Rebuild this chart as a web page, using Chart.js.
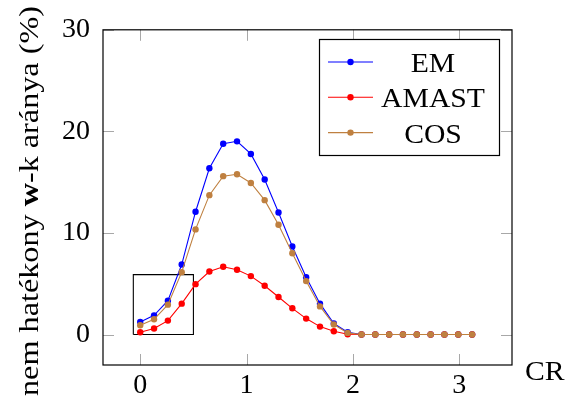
<!DOCTYPE html>
<html><head><meta charset="utf-8">
<script src="https://cdn.jsdelivr.net/npm/chart.js@4.4.0/dist/chart.umd.min.js"></script>
<style>html,body{margin:0;padding:0;background:#fff;}</style>
</head><body>
<canvas id="c" width="565" height="400" style="width:565px;height:400px;display:block"></canvas>
<script>
const xValues = [0,0.13,0.26,0.39,0.52,0.65,0.78,0.91,1.04,1.17,1.30,1.43,1.56,1.69,1.82,1.95,2.08,2.21,2.34,2.47,2.60,2.73,2.86,2.99,3.12];
const seriesNames = ['EM','AMAST','COS'];
const emValues    = [1.24,1.89,3.33,6.89,12.09,16.37,18.78,19.02,17.78,15.26,12.02,8.66,5.65,3.04,1.08,0.22,0,0,0,0,0,0,0,0,0];
const amastValues = [0.23,0.59,1.37,3.04,4.96,6.20,6.67,6.37,5.75,4.80,3.69,2.58,1.57,0.78,0.32,0.02,0,0,0,0,0,0,0,0,0];
const cosValues   = [0.91,1.50,2.94,6.14,10.35,13.72,15.59,15.78,14.92,13.23,10.81,8.00,5.26,2.77,0.98,0.16,0,0,0,0,0,0,0,0,0];
const xTickValues = [0,1,2,3];
const yTickValues = [0,10,20,30];
const boxX = [-0.065,0.5,0.5,-0.065,-0.065];
const boxY = [0,0,5.9,5.9,0];
const xAxisLabel = 'CR';
const yAxisLabelParts = [['nem hatékony ', false], ['w', true], ['-k aránya (%)', false]];

const SERIF = '"Liberation Serif", "DejaVu Serif", serif';
const colors = ['#0000ff', '#ff0000', '#bf8040'];
const seriesValues = [emValues, amastValues, cosValues];
const orders = [3, 2, 1];

const datasets = seriesNames.map((name, i) => ({
  label: name,
  data: xValues.map((x, k) => ({x: x, y: seriesValues[i][k]})),
  borderColor: colors[i],
  backgroundColor: colors[i],
  borderWidth: 1.1,
  pointRadius: 3.2,
  pointBorderWidth: 0,
  pointHoverRadius: 3.2,
  tension: 0,
  order: orders[i]
}));
datasets.push({
  label: '_box',
  data: boxX.map((x, k) => ({x: x, y: boxY[k]})),
  borderColor: '#000000',
  borderWidth: 1.1,
  pointRadius: 0,
  fill: false,
  tension: 0,
  order: 4
});

function stretchedText(ctx, text, x, y, sx, align) {
  const w = ctx.measureText(text).width * sx;
  let left = x;
  if (align === 'center') left = x - w / 2;
  else if (align === 'right') left = x - w;
  ctx.save();
  ctx.translate(left, y);
  ctx.scale(sx, 1);
  ctx.textAlign = 'left';
  ctx.fillText(text, 0, 0);
  ctx.restore();
}

const framePlugin = {
  id: 'frame',
  beforeDatasetsDraw(chart) {
    const {ctx, chartArea: a, scales} = chart;
    ctx.save();
    ctx.strokeStyle = '#a8a8a8';
    ctx.lineWidth = 1;
    const tl = 11;
    xTickValues.forEach(v => {
      const p = Math.round(scales.x.getPixelForValue(v)) + 0.5;
      ctx.beginPath();
      ctx.moveTo(p, a.bottom); ctx.lineTo(p, a.bottom - tl);
      ctx.moveTo(p, a.top); ctx.lineTo(p, a.top + tl);
      ctx.stroke();
    });
    yTickValues.forEach(v => {
      const p = Math.round(scales.y.getPixelForValue(v)) + 0.5;
      ctx.beginPath();
      ctx.moveTo(a.left, p); ctx.lineTo(a.left + tl, p);
      ctx.moveTo(a.right, p); ctx.lineTo(a.right - tl, p);
      ctx.stroke();
    });
    ctx.restore();
  },
  afterDraw(chart) {
    const {ctx, chartArea: a} = chart;
    ctx.save();
    // frame
    ctx.strokeStyle = '#000';
    ctx.lineWidth = 1.2;
    ctx.strokeRect(a.left, a.top, a.right - a.left, a.bottom - a.top);

    // legend
    const lx = 319.5, ly = 39.5, lw = 180, lh = 116;
    ctx.fillStyle = '#fff';
    ctx.fillRect(lx, ly, lw, lh);
    ctx.strokeRect(lx, ly, lw, lh);
    ctx.font = '28px ' + SERIF;
    ctx.textBaseline = 'alphabetic';
    seriesNames.forEach((name, i) => {
      const cy = 62 + i * 35.3;
      ctx.strokeStyle = colors[i];
      ctx.lineWidth = 1.1;
      ctx.beginPath(); ctx.moveTo(328, cy); ctx.lineTo(373, cy); ctx.stroke();
      ctx.fillStyle = colors[i];
      ctx.beginPath(); ctx.arc(350.5, cy, 3.2, 0, Math.PI * 2); ctx.fill();
      ctx.fillStyle = '#000';
      stretchedText(ctx, name, 433, cy + 10, 1.06, 'center');
    });

    // x axis label
    stretchedText(ctx, xAxisLabel, 525, 380, 1.06, 'left');

    // y axis label (rotated, mixed bold), stretched to the reference length
    ctx.translate(38, 201);
    ctx.rotate(-Math.PI / 2);
    const fontFor = b => (b ? 'bold ' : '') + '28px ' + SERIF;
    let total = 0;
    yAxisLabelParts.forEach(([t, b]) => { ctx.font = fontFor(b); total += ctx.measureText(t).width; });
    const target = 390;
    const sx = target / total;
    ctx.scale(sx, 1);
    let pos = -total / 2;
    ctx.textAlign = 'left';
    yAxisLabelParts.forEach(([t, b]) => {
      ctx.font = fontFor(b);
      ctx.fillText(t, pos, 0);
      pos += ctx.measureText(t).width;
    });
    ctx.restore();
  }
};

new Chart(document.getElementById('c'), {
  type: 'line',
  data: { datasets },
  options: {
    responsive: false,
    animation: false,
    events: [],
    layout: { padding: { left: 0, right: 53, top: 28, bottom: 0 } },
    plugins: { legend: { display: false }, tooltip: { enabled: false }, title: { display: false } },
    scales: {
      x: {
        type: 'linear', min: -0.35, max: 3.495,
        grid: { display: false, drawTicks: false },
        border: { display: false },
        afterBuildTicks: s => { s.ticks = xTickValues.map(v => ({value: v})); },
        afterFit: s => { s.height = 35; },
        ticks: { color: '#000', font: { family: SERIF, size: 28 }, padding: 4, maxRotation: 0, autoSkip: false }
      },
      y: {
        type: 'linear', min: -3, max: 30,
        grid: { display: false, drawTicks: false },
        border: { display: false },
        afterBuildTicks: s => { s.ticks = yTickValues.map(v => ({value: v})); },
        afterFit: s => { s.width = 103; },
        ticks: { color: '#000', font: { family: SERIF, size: 28 }, padding: 13, autoSkip: false }
      }
    }
  },
  plugins: [framePlugin]
});
</script>
</body></html>
